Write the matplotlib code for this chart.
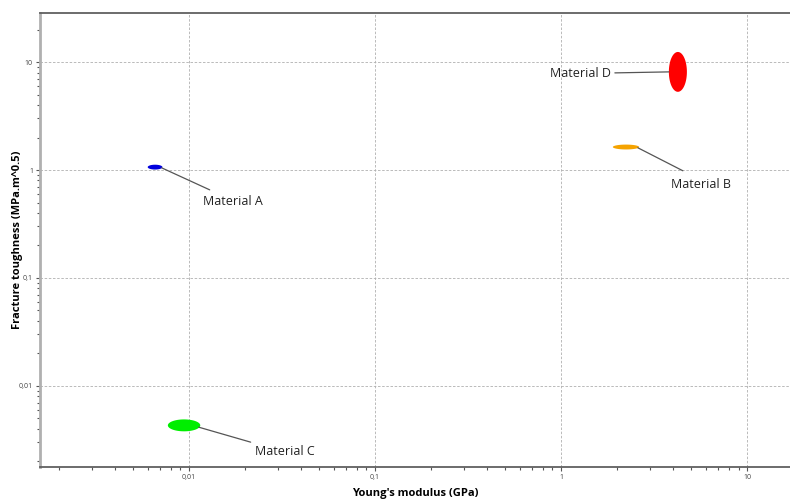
import numpy as np
import matplotlib
matplotlib.use("Agg")
import matplotlib.pyplot as plt
from matplotlib.ticker import FuncFormatter, LogLocator, NullFormatter

plt.rcParams["font.family"] = ["Open Sans", "DejaVu Sans"]

# property ranges (min, max)
materials = ["Material A", "Material B", "Material C", "Material D"]
E_min = [0.0060, 1.90, 0.0077, 3.80]   # Young's modulus, GPa
E_max = [0.0072, 2.63, 0.0115, 4.75]
K_min = [1.01, 1.55, 0.0038, 5.3]      # fracture toughness, MPa.m^0.5
K_max = [1.12, 1.72, 0.0049, 12.4]
colors = ["#0000dd", "#f5a300", "#00ee00", "#ff0000"]

# label line offsets (pixels) from the ellipse edge, and text placement
line_off = [(48, -22), (45, -23), (52, -15), (-54, -1)]
text_off = [(41, -34), (33, -37), (56, -24), (-58, -2)]
text_ha = ["left", "left", "left", "right"]

fig = plt.figure(figsize=(7.9, 5.01), dpi=100)
ax = fig.add_axes([0.0506, 0.068, 0.9494, 0.906])
ax.set_xscale("log")
ax.set_yscale("log")
ax.set_xlim(10 ** -2.801, 10 ** 1.231)
ax.set_ylim(10 ** -2.75, 10 ** 1.454)

t = np.linspace(0, 2 * np.pi, 200)
for i, name in enumerate(materials):
    cx = (np.log10(E_min[i]) + np.log10(E_max[i])) / 2
    cy = (np.log10(K_min[i]) + np.log10(K_max[i])) / 2
    rx = (np.log10(E_max[i]) - np.log10(E_min[i])) / 2
    ry = (np.log10(K_max[i]) - np.log10(K_min[i])) / 2
    ax.fill(10 ** (cx + rx * np.cos(t)), 10 ** (cy + ry * np.sin(t)),
            color=colors[i], lw=0, zorder=3)
    # anchor on left or right edge of the ellipse
    if line_off[i][0] > 0:
        ex = 10 ** (cx + rx * 0.9)
        ey = 10 ** (cy - ry * 0.3)
    else:
        ex = 10 ** (cx - rx)
        ey = 10 ** cy
    ax.annotate("", xy=(ex, ey), xytext=line_off[i], textcoords="offset pixels",
                arrowprops=dict(arrowstyle="-", color="#555555", lw=0.9,
                                shrinkA=0, shrinkB=0), zorder=4)
    ax.annotate(name, xy=(ex, ey), xytext=text_off[i], textcoords="offset pixels",
                ha=text_ha[i], va="center", fontsize=9, color="#222222")

fmt = FuncFormatter(lambda v, p: ("%g" % v).replace(".", ","))
for axis in (ax.xaxis, ax.yaxis):
    axis.set_major_locator(LogLocator(base=10, numticks=20))
    axis.set_minor_locator(LogLocator(base=10, subs=np.arange(2, 10), numticks=20))
    axis.set_major_formatter(fmt)
    axis.set_minor_formatter(NullFormatter())

ax.tick_params(which="both", labelsize=5, labelcolor="#444444", color="#555555",
               direction="out", pad=2)
ax.tick_params(which="major", length=3, width=0.8)
ax.tick_params(which="minor", length=2, width=0.8)

ax.grid(True, which="major", ls=(0, (3, 2)), color="#b0b0b0", lw=0.6)
ax.spines["right"].set_visible(False)
ax.spines["top"].set_color("#606060")
ax.spines["top"].set_linewidth(1.3)
ax.spines["bottom"].set_color("#606060")
ax.spines["bottom"].set_linewidth(1.3)
ax.spines["left"].set_color("#b0b0b0")
ax.spines["left"].set_linewidth(2)

ax.set_xlabel("Young's modulus (GPa)", fontsize=8, fontweight="bold", labelpad=5)
ax.set_ylabel("Fracture toughness (MPa.m^0.5)", fontsize=8, fontweight="bold")
ax.yaxis.set_label_coords(-0.023, 0.5)

fig.savefig("out.png", dpi=100)
